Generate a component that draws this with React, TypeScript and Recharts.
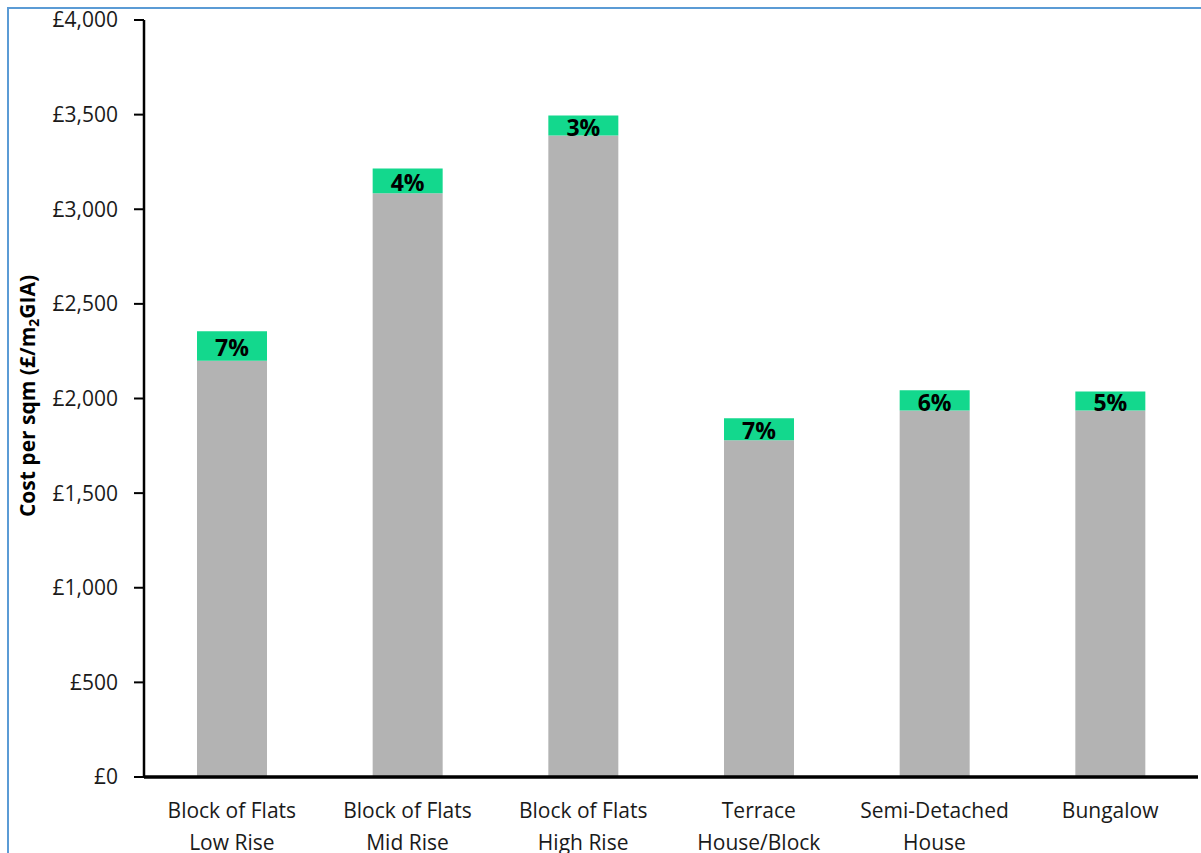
import React from "react";
import { BarChart, Bar, XAxis, YAxis, LabelList } from "recharts";

// Building types, each split over two lines under the axis
const categories: string[][] = [
  ["Block of Flats", "Low Rise"],
  ["Block of Flats", "Mid Rise"],
  ["Block of Flats", "High Rise"],
  ["Terrace", "House/Block"],
  ["Semi-Detached", "House"],
  ["Bungalow"],
];

// Base build cost per sqm (£)
const baseCost: number[] = [2200, 3085, 3390, 1780, 1937, 1937];

// Additional cost per sqm (£) stacked on top of the base
const upliftCost: number[] = [155, 130, 105, 116, 107, 100];

const yTicks: number[] = [0, 500, 1000, 1500, 2000, 2500, 3000, 3500, 4000];

const FONT = "'Open Sans', 'Noto Sans', sans-serif";
const GREY = "#B3B3B3";
const GREEN = "#13D88D";

const rows = categories.map((lines, i) => ({
  name: lines.join(" "),
  lines,
  base: baseCost[i],
  uplift: upliftCost[i],
  pct: Math.round((upliftCost[i] / baseCost[i]) * 100),
}));

const formatPounds = (v: number) => "£" + v.toLocaleString("en-GB");

const CategoryTick = (props: any) => {
  const { x, y, payload, index } = props;
  const lines: string[] = rows[index]?.lines ?? [String(payload.value)];
  return (
    <text
      x={x}
      y={y}
      textAnchor="middle"
      fill="#1a1a1a"
      fontFamily={FONT}
      fontSize={21}
    >
      {lines.map((ln, k) => (
        <tspan key={k} x={x} y={y + 41 + k * 32}>
          {ln}
        </tspan>
      ))}
    </text>
  );
};

const PercentLabel = (props: any) => {
  const { x, y, width, height, index } = props;
  const fs = 23;
  const cx = x + width / 2;
  const cy = y + height / 2;
  return (
    <text
      x={cx}
      y={cy + fs * 0.357 + 2}
      textAnchor="middle"
      fill="#000"
      fontFamily={FONT}
      fontWeight={700}
      fontSize={fs}
    >
      {rows[index].pct + "%"}
    </text>
  );
};

const AxisTitle = () => (
  <text
    transform="translate(35, 396) rotate(-90)"
    textAnchor="middle"
    fill="#000"
    fontFamily={FONT}
    fontWeight={700}
    fontSize={21}
  >
    Cost per sqm (£/m
    <tspan fontSize={14} dy={4}>
      2
    </tspan>
    <tspan dy={-4}>GIA)</tspan>
  </text>
);

export default function App() {
  return (
    <div
      style={{
        position: "absolute",
        left: 0,
        top: 0,
        width: 1201,
        height: 853,
        overflow: "hidden",
        background: "#fff",
      }}
    >
      <div
        style={{
          position: "absolute",
          left: 7,
          top: 7,
          width: 1300,
          height: 900,
          borderTop: "2px solid #5B9BD5",
          borderLeft: "2px solid #5B9BD5",
          boxSizing: "border-box",
        }}
      />
      <div style={{ position: "absolute", left: 0, top: 0 }}>
        <BarChart
          width={1201}
          height={853}
          data={rows}
          margin={{ top: 20, right: 3, bottom: 0, left: 0 }}
          barSize={70}
        >
          <XAxis
            dataKey="name"
            height={76}
            interval={0}
            tickLine={false}
            tickSize={0}
            tickMargin={0}
            axisLine={{ stroke: "#000", strokeWidth: 3.5 }}
            tick={<CategoryTick />}
          />
          <YAxis
            width={144}
            domain={[0, 4000]}
            ticks={yTicks}
            interval={0}
            tickFormatter={formatPounds}
            tickSize={10}
            tickMargin={16}
            tickLine={{ stroke: "#000", strokeWidth: 2 }}
            axisLine={{ stroke: "#000", strokeWidth: 2.5 }}
            tick={{ fill: "#1a1a1a", fontFamily: FONT, fontSize: 21 }}
            label={{ content: () => <AxisTitle /> }}
          />
          <Bar dataKey="base" stackId="cost" fill={GREY} isAnimationActive={false} />
          <Bar dataKey="uplift" stackId="cost" fill={GREEN} isAnimationActive={false}>
            <LabelList dataKey="pct" content={<PercentLabel />} />
          </Bar>
        </BarChart>
      </div>
    </div>
  );
}
